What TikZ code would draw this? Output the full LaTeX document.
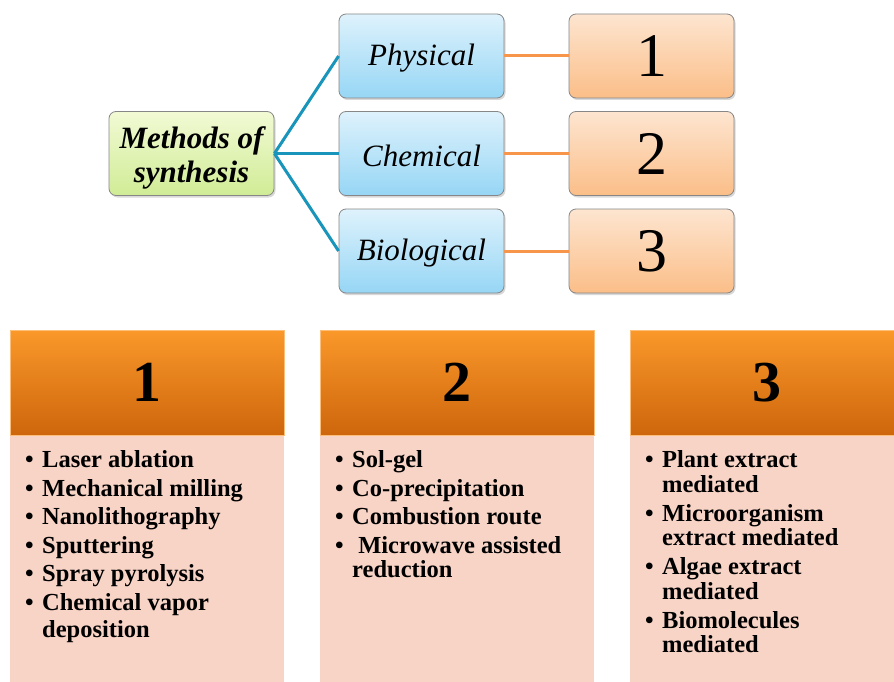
\documentclass[tikz,border=0pt]{standalone}
\usepackage{fontspec}
\setmainfont{Liberation Serif}
\usetikzlibrary{shadows}
\definecolor{gtop}{RGB}{242,250,212}
\definecolor{gbot}{RGB}{208,236,150}
\definecolor{btop}{RGB}{222,242,252}
\definecolor{bbot}{RGB}{150,214,245}
\definecolor{ptop}{RGB}{253,229,208}
\definecolor{pbot}{RGB}{251,190,136}
\definecolor{boxedge}{RGB}{135,135,135}
\definecolor{tealline}{RGB}{25,148,186}
\definecolor{orline}{RGB}{247,150,74}
\definecolor{htop}{RGB}{250,152,42}
\definecolor{hbot}{RGB}{206,102,12}
\definecolor{hedge}{RGB}{252,190,120}
\definecolor{bodyc}{RGB}{248,212,198}
\newcommand{\bul}{\makebox[17pt][l]{\textbullet}}
\newcommand{\ind}{\hspace*{17pt}}
\tikzset{
  topbox/.style={rounded corners=7pt, draw=boxedge, line width=0.8pt,
    minimum width=165pt, minimum height=84pt, inner sep=0pt,
    drop shadow={opacity=0.3, shadow xshift=1.5pt, shadow yshift=-2pt}},
  greenbox/.style={topbox, top color=gtop, bottom color=gbot},
  greentext/.style={inner sep=0pt, align=center,
    font=\fontsize{31}{34}\selectfont\bfseries\itshape},
  bluebox/.style={topbox, top color=btop, bottom color=bbot},
  bluetext/.style={inner sep=0pt, font=\fontsize{31}{34}\selectfont\itshape},
  peachbox/.style={topbox, top color=ptop, bottom color=pbot,
    font=\fontsize{62}{62}\selectfont},
  tealconn/.style={draw=tealline, line width=3pt},
  orconn/.style={draw=orline, line width=3pt},
  header/.style={top color=htop, bottom color=hbot, draw=hedge, line width=0.8pt,
    minimum height=105pt, inner sep=0pt, font=\fontsize{58}{58}\selectfont\bfseries},
  body/.style={fill=bodyc, minimum height=247pt, inner sep=0pt},
  listtext/.style={anchor=north west, inner sep=0pt, align=left,
    font=\fontsize{24.5}{24.5}\selectfont\bfseries}
}
\begin{document}
\begin{tikzpicture}[x=1pt,y=-1pt]
\useasboundingbox (0,0) rectangle (894,682);
\clip (0,0) rectangle (894,682);
\fill[white] (0,0) rectangle (894,682);

% top diagram
\node[greenbox] (m) at (191.5,153.5) {};
\node[greentext] (mt) at (191.5,157.5) {Methods of\\synthesis};
\node[bluebox] (phy) at (421.5,56) {};
\node[bluetext] (phyt) at (421.5,58) {Physical};
\node[bluebox] (che) at (421.5,153.5) {};
\node[bluetext] (chet) at (421.5,155.5) {Chemical};
\node[bluebox] (bio) at (421.5,251) {};
\node[bluetext] (biot) at (421.5,253) {Biological};
\node[peachbox] (n1) at (651.5,56) {1};
\node[peachbox] (n2) at (651.5,153.5) {2};
\node[peachbox] (n3) at (651.5,251) {3};

\draw[tealconn] (m.east) -- (phy.west);
\draw[tealconn] (m.east) -- (che.west);
\draw[tealconn] (m.east) -- (bio.west);
\draw[orconn] (phy.east) -- (n1.west);
\draw[orconn] (che.east) -- (n2.west);
\draw[orconn] (bio.east) -- (n3.west);

% bottom panels
\node[body, minimum width=274pt] (b1) at (147,558.5) {};
\node[body, minimum width=274pt] (b2) at (457,558.5) {};
\node[body, minimum width=274pt] (b3) at (767,558.5) {};
\node[header, minimum width=274pt] (h1) at (147,382.5) {1};
\node[header, minimum width=274pt] (h2) at (457,382.5) {2};
\node[header, minimum width=274pt] (h3) at (767,382.5) {3};

\node[listtext] (t1) at (25,450.5) {\bul Laser ablation\\[4pt]
\bul Mechanical milling\\[4pt]
\bul Nanolithography\\[4pt]
\bul Sputtering\\[4pt]
\bul Spray pyrolysis\\[4pt]
\bul Chemical vapor\\[2.5pt]
\ind deposition};

\node[listtext] (t2) at (335,450.5) {\bul Sol-gel\\[4pt]
\bul Co-precipitation\\[4pt]
\bul Combustion route\\[4pt]
\bul \ Microwave assisted\\
\ind reduction};

\node[listtext] (t3) at (645,450.5) {\bul Plant extract\\
\ind mediated\\[4.5pt]
\bul Microorganism\\
\ind extract mediated\\[4.5pt]
\bul Algae extract\\
\ind mediated\\[4.5pt]
\bul Biomolecules\\
\ind mediated};
\end{tikzpicture}
\end{document}
